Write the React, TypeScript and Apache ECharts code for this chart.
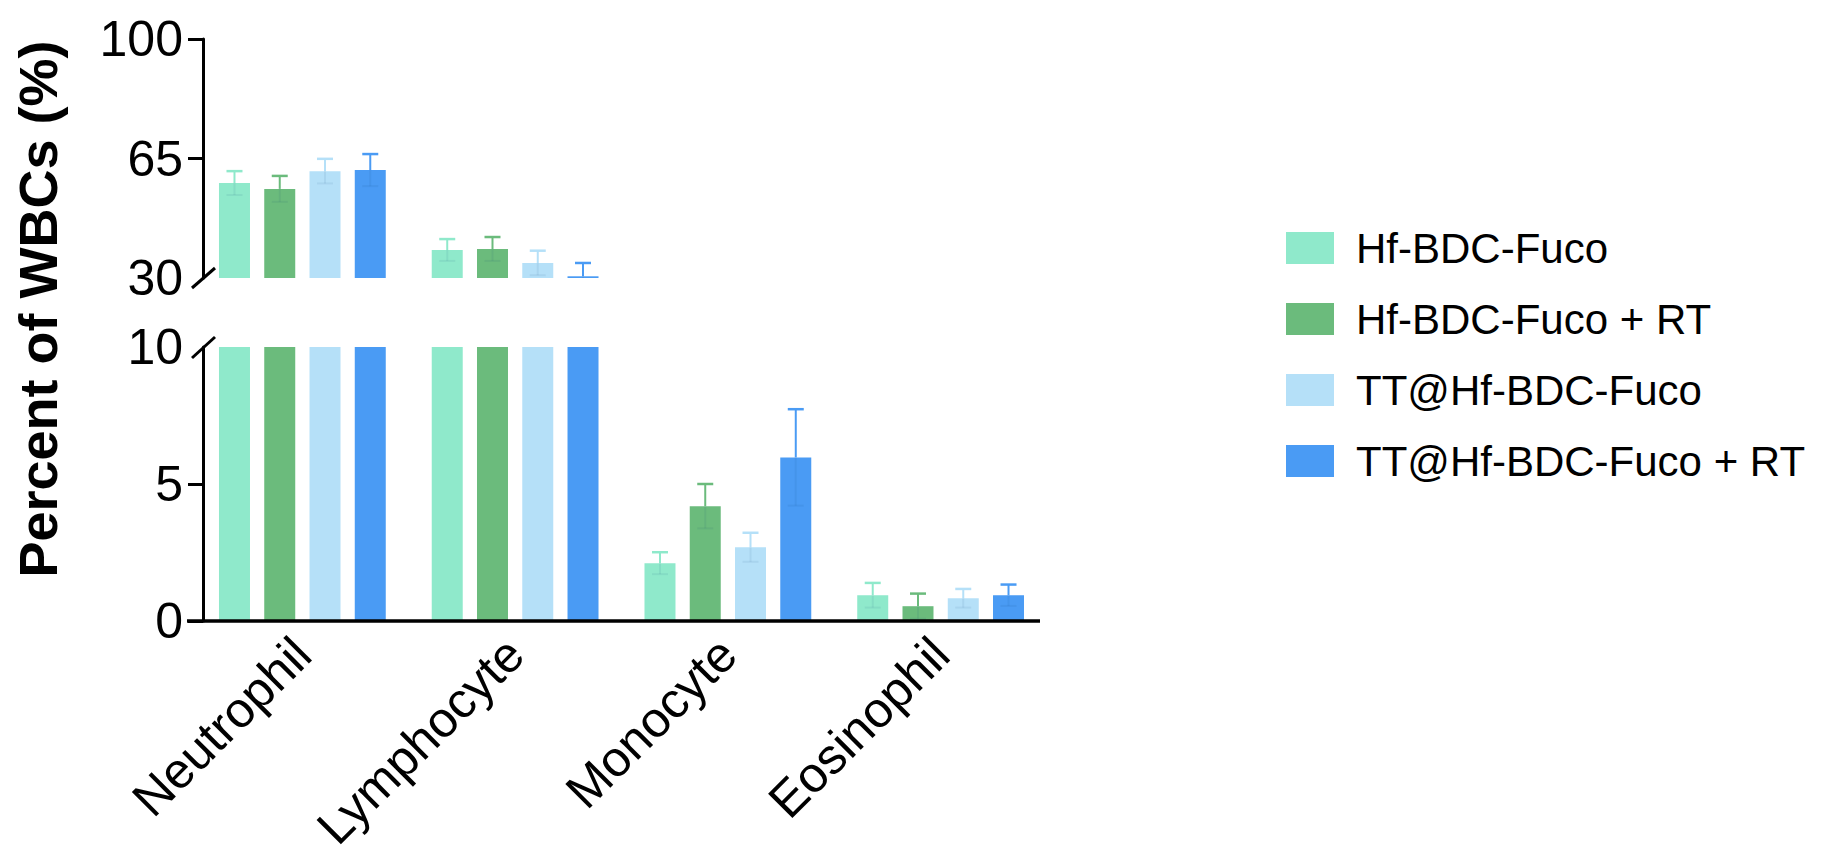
import React, { useEffect, useRef } from "react";
import * as echarts from "echarts";

// White blood cell differential, mean ± SD per treatment group
const CATEGORIES = ["Neutrophil", "Lymphocyte", "Monocyte", "Eosinophil"];
const GROUPS = ["Hf-BDC-Fuco", "Hf-BDC-Fuco + RT", "TT@Hf-BDC-Fuco", "TT@Hf-BDC-Fuco + RT"];

const HF_MEAN = [57.8, 38.2, 2.11, 0.94];
const HF_SD = [3.5, 3.2, 0.4, 0.45];
const HF_RT_MEAN = [56.1, 38.5, 4.19, 0.54];
const HF_RT_SD = [3.8, 3.5, 0.81, 0.46];
const TT_MEAN = [61.3, 34.4, 2.69, 0.83];
const TT_SD = [3.6, 3.6, 0.53, 0.34];
const TT_RT_MEAN = [61.6, 30.5, 5.97, 0.94];
const TT_RT_SD = [4.7, 3.9, 1.76, 0.39];

const MEANS = [HF_MEAN, HF_RT_MEAN, TT_MEAN, TT_RT_MEAN];
const SDS = [HF_SD, HF_RT_SD, TT_SD, TT_RT_SD];

// Broken value axis: upper segment and lower segment
const UPPER_RANGE = [30, 100];
const UPPER_TICK_LABELS = [30, 65, 100];
const UPPER_TICK_MARKS = [65, 100];
const LOWER_RANGE = [0, 10];
const LOWER_TICK_LABELS = [0, 5, 10];
const LOWER_TICK_MARKS = [0, 5];

const COLORS = ["#8FE9CB", "#6BBB7C", "#B5E0F8", "#4A9BF4"];

const FONT = "'Liberation Sans', Arial, Helvetica, sans-serif";
const BAR_WIDTH = 31;
const BAR_GAP = 0.46;

function errorBarRenderer(seriesIdx: number, color: string) {
  const pitch = BAR_WIDTH * (1 + BAR_GAP);
  return (params: any, api: any) => {
    const cs = params.coordSys;
    const j = api.value(0);
    const m = api.value(1);
    const s = api.value(2);
    const c = api.coord([j, m]);
    const top = cs.y;
    const bottom = cs.y + cs.height;
    if (c[1] < top - 0.5 || c[1] > bottom + 0.5) return null;
    const x = c[0] + (seriesIdx - 1.5) * pitch;
    const yHi = api.coord([j, m + s])[1];
    const yLo = api.coord([j, m - s])[1];
    const children: any[] = [];
    const upperEnd = Math.max(yHi, top);
    children.push({
      type: "line",
      shape: { x1: x, y1: c[1], x2: x, y2: upperEnd },
      style: { stroke: color, lineWidth: 2 },
    });
    if (yHi >= top) {
      children.push({
        type: "line",
        shape: { x1: x - 8, y1: yHi, x2: x + 8, y2: yHi },
        style: { stroke: color, lineWidth: 2.5 },
      });
    }
    // lower half of the SD whisker, barely visible through the bar
    const faint = "rgba(0,50,110,0.07)";
    const lowerEnd = Math.min(yLo, bottom);
    children.push({
      type: "line",
      shape: { x1: x, y1: c[1], x2: x, y2: lowerEnd },
      style: { stroke: faint, lineWidth: 2 },
    });
    if (yLo <= bottom) {
      children.push({
        type: "line",
        shape: { x1: x - 8, y1: yLo, x2: x + 8, y2: yLo },
        style: { stroke: faint, lineWidth: 2 },
      });
    }
    return { type: "group", children };
  };
}

export default function App() {
  const ref = useRef<HTMLDivElement>(null);

  useEffect(() => {
    document.body.style.margin = "0";
    document.body.style.overflow = "hidden";
    const chart = echarts.init(ref.current!, null, { renderer: "svg" });

    const series: any[] = [];
    [0, 1].forEach((g) => {
      GROUPS.forEach((name, i) => {
        series.push({
          type: "bar",
          name,
          xAxisIndex: g,
          yAxisIndex: g,
          data: MEANS[i],
          barWidth: BAR_WIDTH,
          barGap: `${BAR_GAP * 100}%`,
          itemStyle: { color: COLORS[i] },
          clip: true,
          z: 2,
        });
      });
      GROUPS.forEach((name, i) => {
        series.push({
          type: "custom",
          name: `${name} SD`,
          xAxisIndex: g,
          yAxisIndex: g,
          data: CATEGORIES.map((_, j) => [j, MEANS[i][j], SDS[i][j]]),
          renderItem: errorBarRenderer(i, COLORS[i]),
          clip: true,
          z: 3,
        });
      });
    });

    const axisLineStyle = { color: "#000", width: 3 };
    const tickLabelStyle = { color: "#000", fontSize: 50, fontFamily: FONT, margin: 20 };

    chart.setOption({
      animation: false,
      backgroundColor: "#fff",
      grid: [
        { left: 196, width: 851, top: 39, height: 239, outerBoundsMode: "none" },
        { left: 196, width: 851, top: 347, height: 274, outerBoundsMode: "none" },
      ],
      legend: {
        orient: "vertical",
        left: 1281,
        top: 222,
        icon: "rect",
        itemWidth: 48,
        itemHeight: 32,
        itemGap: 29,
        data: GROUPS,
        textStyle: {
          color: "#000",
          fontSize: 42,
          fontFamily: FONT,
          padding: [0, 0, 0, 17],
        },
      },
      xAxis: [
        {
          type: "category",
          gridIndex: 0,
          data: CATEGORIES,
          axisLine: { show: false },
          axisTick: { show: false },
          axisLabel: { show: false },
        },
        {
          type: "category",
          gridIndex: 1,
          data: CATEGORIES,
          axisLine: { show: false },
          axisTick: { show: false },
          axisLabel: {
            rotate: 45,
            color: "#000",
            fontSize: 50,
            fontFamily: FONT,
            margin: 25,
            interval: 0,
          },
        },
      ],
      yAxis: [
        {
          type: "value",
          gridIndex: 0,
          min: UPPER_RANGE[0],
          max: UPPER_RANGE[1],
          offset: -7,
          splitLine: { show: false },
          axisLine: { show: true, lineStyle: axisLineStyle },
          axisTick: {
            show: true,
            length: 15,
            customValues: UPPER_TICK_MARKS,
            lineStyle: axisLineStyle,
          },
          axisLabel: { ...tickLabelStyle, customValues: UPPER_TICK_LABELS },
        },
        {
          type: "value",
          gridIndex: 1,
          min: LOWER_RANGE[0],
          max: LOWER_RANGE[1],
          offset: -7,
          splitLine: { show: false },
          axisLine: { show: true, lineStyle: axisLineStyle },
          axisTick: {
            show: true,
            length: 15,
            customValues: LOWER_TICK_MARKS,
            lineStyle: axisLineStyle,
          },
          axisLabel: { ...tickLabelStyle, customValues: LOWER_TICK_LABELS },
        },
      ],
      graphic: [
        {
          type: "text",
          x: 38,
          y: 309,
          rotation: Math.PI / 2,
          style: {
            text: "Percent of WBCs (%)",
            font: `bold 54px ${FONT}`,
            fill: "#000",
            textAlign: "center",
            textVerticalAlign: "middle",
          },
        },
        // category baseline
        {
          type: "line",
          shape: { x1: 187, y1: 621, x2: 1040, y2: 621 },
          style: { stroke: "#000", lineWidth: 3.5 },
          z: 10,
        },
        // axis break marks
        {
          type: "line",
          shape: { x1: 192, y1: 288, x2: 215, y2: 268 },
          style: { stroke: "#000", lineWidth: 3 },
          z: 10,
        },
        {
          type: "line",
          shape: { x1: 192, y1: 358, x2: 215, y2: 337 },
          style: { stroke: "#000", lineWidth: 3 },
          z: 10,
        },
      ],
      series,
    });

    return () => chart.dispose();
  }, []);

  return (
    <div
      ref={ref}
      style={{ position: "absolute", left: 0, top: 0, width: 1822, height: 862 }}
    />
  );
}
